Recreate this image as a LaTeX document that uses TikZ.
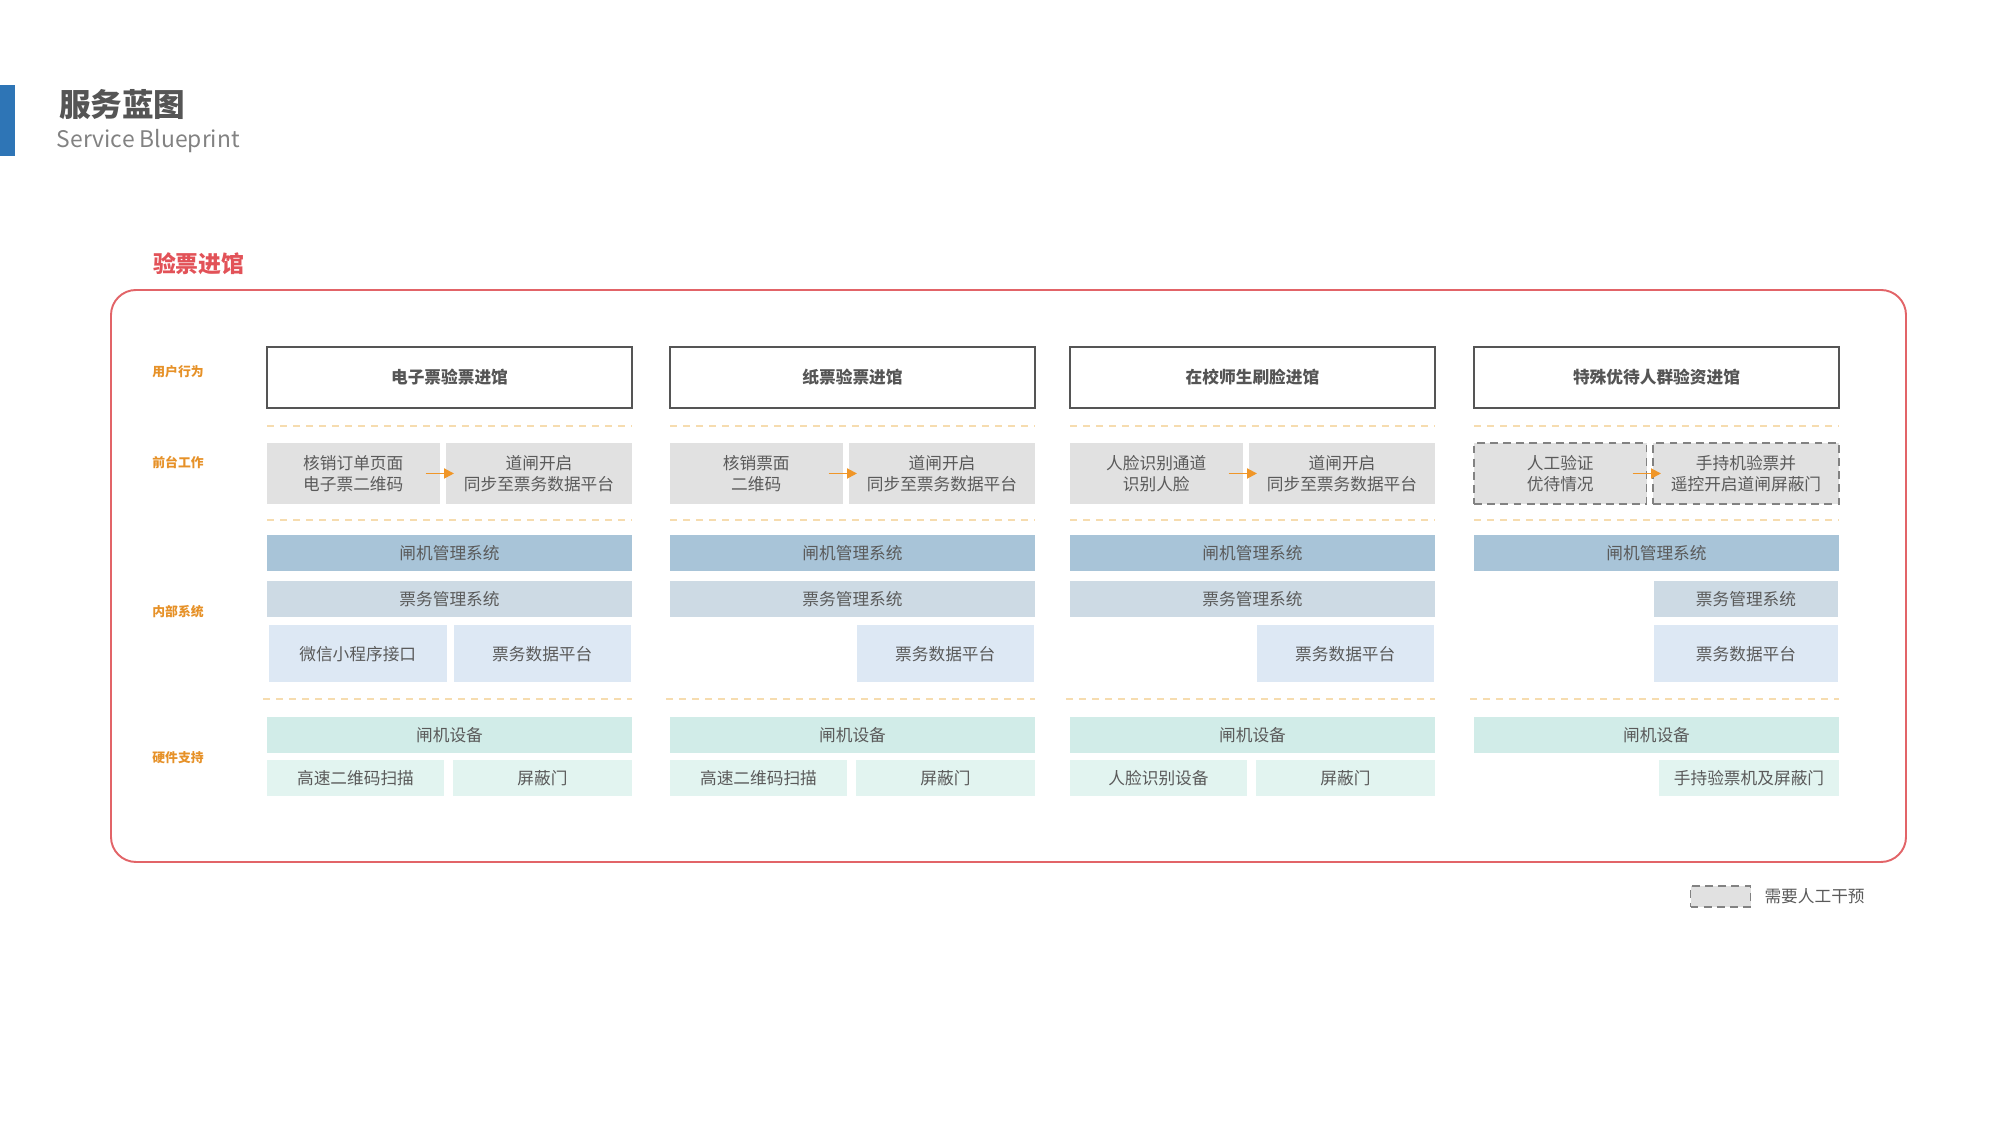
\documentclass[tikz,border=0pt]{standalone}
\usepackage{fontspec}
\setmainfont{Noto Sans CJK SC}
\usetikzlibrary{arrows.meta,positioning}

\definecolor{barblue}{RGB}{46,117,182}
\definecolor{titlegray}{RGB}{85,85,85}
\definecolor{subgray}{RGB}{130,130,130}
\definecolor{textgray}{RGB}{90,90,90}
\definecolor{framered}{RGB}{226,100,104}
\definecolor{titlered}{RGB}{226,82,88}
\definecolor{laneorange}{RGB}{230,145,40}
\definecolor{arroworange}{RGB}{240,150,40}
\definecolor{lanedash}{RGB}{246,220,175}
\definecolor{frontfill}{RGB}{225,225,225}
\definecolor{gatefill}{RGB}{168,196,216}
\definecolor{ticketfill}{RGB}{205,218,228}
\definecolor{datafill}{RGB}{221,232,244}
\definecolor{devfill}{RGB}{209,236,232}
\definecolor{partfill}{RGB}{226,244,240}

\begin{document}
\begin{tikzpicture}[
    every node/.style={inner sep=0pt, outer sep=0pt, font=\fontsize{9.5}{12}\selectfont, text=textgray},
    headbox/.style={rectangle, draw=titlegray, line width=1pt, fill=white, minimum width=7.3cm, minimum height=1.22cm, font=\fontsize{9.5}{12}\selectfont\bfseries, text=titlegray},
    frontbox/.style={rectangle, fill=frontfill, minimum height=1.22cm, align=center},
    manualbox/.style={frontbox, draw=subgray, line width=0.8pt, dash pattern=on 4.5pt off 3pt},
    gatesys/.style={rectangle, fill=gatefill, minimum width=7.3cm, minimum height=0.72cm},
    ticketsys/.style={rectangle, fill=ticketfill, minimum height=0.72cm},
    dataplat/.style={rectangle, fill=datafill, minimum width=3.55cm, minimum height=1.14cm},
    gatedev/.style={rectangle, fill=devfill, minimum width=7.3cm, minimum height=0.72cm},
    hwpart/.style={rectangle, fill=partfill, minimum height=0.72cm},
    lanelabel/.style={font=\fontsize{7.3}{9}\selectfont\bfseries, text=laneorange},
    laneline/.style={draw=lanedash, line width=0.9pt, dash pattern=on 4pt off 3.4pt},
    flow/.style={draw=arroworange, line width=1.1pt, -{Triangle[length=0.2cm, width=0.2cm]}}
]
    \useasboundingbox (0,0) rectangle (40,22.5);

    % 标题
    \fill[barblue] (0,19.38) rectangle (0.3,20.8);
    \node[anchor=west, font=\fontsize{18}{20}\selectfont\bfseries, text=titlegray] (title) at (1.18,20.4) {服务蓝图};
    \node[anchor=west, font=\fontsize{13}{15}\selectfont, text=subgray] (subtitle) at (1.14,19.68) {Service Blueprint};
    \node[anchor=west, font=\fontsize{13}{15}\selectfont\bfseries, text=titlered] (stage) at (3.06,17.22) {验票进馆};

    % 外框
    \draw[framered, line width=1.1pt, rounded corners=0.5cm] (2.22,5.26) rectangle (38.12,16.7);

    % 泳道
    \node[lanelabel] (lane1) at (3.56,15.06) {用户行为};
    \node[lanelabel] (lane2) at (3.56,13.26) {前台工作};
    \node[lanelabel] (lane3) at (3.56,10.26) {内部系统};
    \node[lanelabel] (lane4) at (3.56,7.34) {硬件支持};

    \draw[laneline] (5.34,13.98) -- (12.64,13.98);
    \draw[laneline] (13.4,13.98) -- (20.7,13.98);
    \draw[laneline] (21.4,13.98) -- (28.7,13.98);
    \draw[laneline] (29.48,13.98) -- (36.78,13.98);
    \draw[laneline] (5.34,12.1) -- (12.64,12.1);
    \draw[laneline] (13.4,12.1) -- (20.7,12.1);
    \draw[laneline] (21.4,12.1) -- (28.7,12.1);
    \draw[laneline] (29.48,12.1) -- (36.78,12.1);
    \draw[laneline] (5.26,8.52) -- (12.64,8.52);
    \draw[laneline] (13.32,8.52) -- (20.7,8.52);
    \draw[laneline] (21.32,8.52) -- (28.7,8.52);
    \draw[laneline] (29.4,8.52) -- (36.78,8.52);

    % 电子票
    \node[headbox] (h1) at (8.99,14.95) {电子票验票进馆};
    \node[frontbox, minimum width=3.45cm] (f1a) at (7.065,13.03) {核销订单页面\\电子票二维码};
    \node[frontbox, minimum width=3.72cm] (f1b) at (10.78,13.03) {道闸开启\\同步至票务数据平台};
    \node[gatesys] (g1) at (8.99,11.43) {闸机管理系统};
    \node[ticketsys, minimum width=7.3cm] (t1) at (8.99,10.51) {票务管理系统};
    \node[dataplat] (d1a) at (7.155,9.42) {微信小程序接口};
    \node[dataplat] (d1b) at (10.845,9.42) {票务数据平台};
    \node[gatedev] (e1) at (8.99,7.8) {闸机设备};
    \node[hwpart, minimum width=3.54cm] (p1a) at (7.11,6.94) {高速二维码扫描};
    \node[hwpart, minimum width=3.58cm] (p1b) at (10.85,6.94) {屏蔽门};

    % 纸票
    \node[headbox] (h2) at (17.05,14.95) {纸票验票进馆};
    \node[frontbox, minimum width=3.45cm] (f2a) at (15.125,13.03) {核销票面\\二维码};
    \node[frontbox, minimum width=3.72cm] (f2b) at (18.84,13.03) {道闸开启\\同步至票务数据平台};
    \node[gatesys] (g2) at (17.05,11.43) {闸机管理系统};
    \node[ticketsys, minimum width=7.3cm] (t2) at (17.05,10.51) {票务管理系统};
    \node[dataplat] (d2) at (18.905,9.42) {票务数据平台};
    \node[gatedev] (e2) at (17.05,7.8) {闸机设备};
    \node[hwpart, minimum width=3.54cm] (p2a) at (15.17,6.94) {高速二维码扫描};
    \node[hwpart, minimum width=3.58cm] (p2b) at (18.91,6.94) {屏蔽门};

    % 刷脸
    \node[headbox] (h3) at (25.05,14.95) {在校师生刷脸进馆};
    \node[frontbox, minimum width=3.45cm] (f3a) at (23.125,13.03) {人脸识别通道\\识别人脸};
    \node[frontbox, minimum width=3.72cm] (f3b) at (26.84,13.03) {道闸开启\\同步至票务数据平台};
    \node[gatesys] (g3) at (25.05,11.43) {闸机管理系统};
    \node[ticketsys, minimum width=7.3cm] (t3) at (25.05,10.51) {票务管理系统};
    \node[dataplat] (d3) at (26.905,9.42) {票务数据平台};
    \node[gatedev] (e3) at (25.05,7.8) {闸机设备};
    \node[hwpart, minimum width=3.54cm] (p3a) at (23.17,6.94) {人脸识别设备};
    \node[hwpart, minimum width=3.58cm] (p3b) at (26.91,6.94) {屏蔽门};

    % 特殊优待
    \node[headbox] (h4) at (33.13,14.95) {特殊优待人群验资进馆};
    \node[manualbox, minimum width=3.45cm] (f4a) at (31.205,13.03) {人工验证\\优待情况};
    \node[manualbox, minimum width=3.72cm] (f4b) at (34.92,13.03) {手持机验票并\\遥控开启道闸屏蔽门};
    \node[gatesys] (g4) at (33.13,11.43) {闸机管理系统};
    \node[ticketsys, minimum width=3.68cm] (t4) at (34.92,10.51) {票务管理系统};
    \node[dataplat, minimum width=3.68cm] (d4) at (34.92,9.42) {票务数据平台};
    \node[gatedev] (e4) at (33.13,7.8) {闸机设备};
    \node[hwpart, minimum width=3.6cm] (p4) at (34.98,6.94) {手持验票机及屏蔽门};

    % 箭头
    \draw[flow] ([xshift=-0.28cm]f1a.east) -- ([xshift=0.16cm]f1b.west);
    \draw[flow] ([xshift=-0.28cm]f2a.east) -- ([xshift=0.16cm]f2b.west);
    \draw[flow] ([xshift=-0.28cm]f3a.east) -- ([xshift=0.16cm]f3b.west);
    \draw[flow] ([xshift=-0.28cm]f4a.east) -- ([xshift=0.16cm]f4b.west);

    % 图例
    \node[manualbox, minimum width=1.2cm, minimum height=0.42cm] (key) at (34.41,4.57) {};
    \node[anchor=west, right=0.28cm of key] (keytext) {需要人工干预};

\end{tikzpicture}
\end{document}
